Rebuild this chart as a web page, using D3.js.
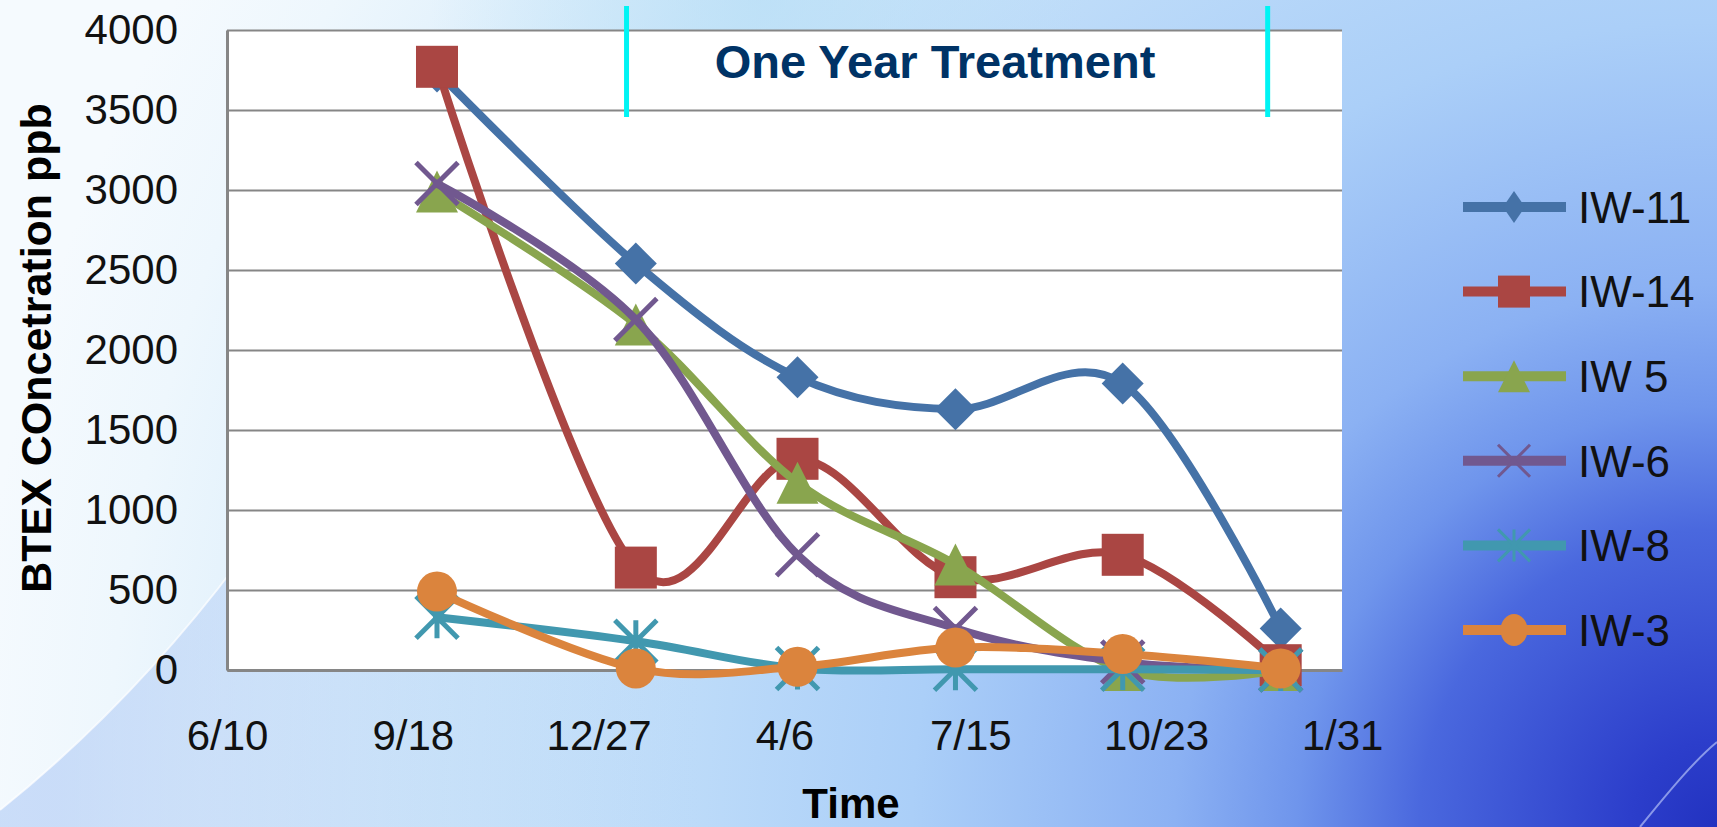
<!DOCTYPE html>
<html>
<head>
<meta charset="utf-8">
<script src="https://cdn.jsdelivr.net/npm/d3@7"></script>
<style>
  html, body { margin: 0; padding: 0; overflow: hidden; }
  svg { display: block; }
</style>
</head>
<body>
<div id="chart"></div>
<script>
// sample dates and BTEX values (ppb)
const sampleDates = ["2008-10-01", "2009-01-16", "2009-04-13", "2009-07-07", "2009-10-05", "2009-12-29"];
const seriesNames = ["IW-11", "IW-14", "IW 5", "IW-6", "IW-8", "IW-3"];
const iw11 = [3740, 2540, 1830, 1630, 1790, 260];
const iw14 = [3770, 640, 1320, 580, 720, 30];
const iw5 = [2990, 2160, 1170, 660, 0, 0];
const iw6 = [3040, 2190, 720, 260, 50, 0];
const iw8 = [330, 180, 10, 5, 5, 0];
const iw3 = [490, 10, 20, 140, 100, 10];

const xTickDates = ["2008-06-10", "2008-09-18", "2008-12-27", "2009-04-06", "2009-07-15", "2009-10-23", "2010-01-31"];
const xTickLabels = ["6/10", "9/18", "12/27", "4/6", "7/15", "10/23", "1/31"];
const yTicks = [0, 500, 1000, 1500, 2000, 2500, 3000, 3500, 4000];

const treatmentDates = ["2009-01-11", "2009-12-22"];
const treatmentLabel = "One Year Treatment";

const colors = ["#4572A7", "#AA4643", "#89A54E", "#71588F", "#4198AF", "#DB843D"];
const markerTypes = ["diamond", "square", "triangle", "x", "star", "circle"];

const width = 1717
const height = 827
const plotLeft = 227
const plotRight = 1342
const plotTop = 30
const plotBottom = 670

const parseDate = d3.timeParse("%Y-%m-%d")
const allSeries = [iw11, iw14, iw5, iw6, iw8, iw3]

let svg = d3.select("#chart")
    .append("svg")
    .attr("width", width)
    .attr("height", height)

// background: light on the left, deep blue toward the bottom right corner
const defs = svg.append("defs")
const bg = defs.append("radialGradient")
    .attr("id", "bg")
    .attr("gradientUnits", "userSpaceOnUse")
    .attr("cx", 1717).attr("cy", 827).attr("r", 1750)
    .attr("fx", 1717).attr("fy", 827)
const bgStops = [
    [0, "#2232c0"], [0.05, "#2c3ecb"], [0.17, "#4a68de"], [0.24, "#6f95ec"],
    [0.31, "#8bb1f3"], [0.46, "#abcff8"], [0.73, "#d0e8fa"], [0.92, "#eef7fd"], [1, "#f5fafe"]
]
bgStops.forEach(s => bg.append("stop").attr("offset", s[0]).attr("stop-color", s[1]))

const topTint = defs.append("radialGradient")
    .attr("id", "topTint")
    .attr("gradientUnits", "userSpaceOnUse")
    .attr("cx", 760).attr("cy", 0).attr("r", 330)
topTint.append("stop").attr("offset", "0%").attr("stop-color", "#b7def6").attr("stop-opacity", 0.7)
topTint.append("stop").attr("offset", "100%").attr("stop-color", "#b7def6").attr("stop-opacity", 0)

const wedge = defs.append("linearGradient")
    .attr("id", "wedge")
    .attr("gradientUnits", "userSpaceOnUse")
    .attr("x1", 60).attr("y1", 0).attr("x2", 700).attr("y2", 0)
wedge.append("stop").attr("offset", "0%").attr("stop-color", "#a9c6f4").attr("stop-opacity", 0.55)
wedge.append("stop").attr("offset", "100%").attr("stop-color", "#a9c6f4").attr("stop-opacity", 0)

svg.append("rect")
    .attr("width", width)
    .attr("height", height)
    .attr("fill", "url(#bg)")

svg.append("rect")
    .attr("width", width)
    .attr("height", 330)
    .attr("fill", "url(#topTint)")

svg.append("path")
    .attr("d", "M0,810 C100,730 180,640 240,560 L700,560 L700,827 L0,827 Z")
    .attr("fill", "url(#wedge)")

svg.append("path")
    .attr("d", "M0,810 C100,730 180,640 240,560")
    .attr("fill", "none")
    .attr("stroke", "#ffffff")
    .attr("stroke-width", 2)
    .attr("opacity", 0.7)

svg.append("path")
    .attr("d", "M1640,827 C1670,790 1695,760 1717,742")
    .attr("fill", "none")
    .attr("stroke", "#c9d6ff")
    .attr("stroke-width", 2)
    .attr("opacity", 0.6)

// scales
const x = d3.scaleTime()
    .domain([parseDate(xTickDates[0]), parseDate(xTickDates[xTickDates.length - 1])])
    .range([plotLeft, plotRight])

const y = d3.scaleLinear()
    .domain([0, 4000])
    .range([plotBottom, plotTop])

svg.append("rect")
    .attr("x", plotLeft)
    .attr("y", plotTop)
    .attr("width", plotRight - plotLeft)
    .attr("height", plotBottom - plotTop)
    .attr("fill", "#ffffff")

// gridlines
svg.append("g")
    .attr("transform", `translate(${plotLeft},0)`)
    .call(d3.axisLeft(y).tickValues(yTicks).tickSize(-(plotRight - plotLeft)).tickFormat(""))
    .call(g => g.select(".domain").remove())
    .call(g => g.selectAll("line").attr("stroke", "#868686").attr("stroke-width", 2))

// y axis
svg.append("g")
    .attr("transform", `translate(${plotLeft},0)`)
    .call(d3.axisLeft(y).tickValues(yTicks).tickFormat(d3.format("d")).tickSize(0).tickPadding(49))
    .call(g => g.select(".domain").attr("stroke", "#868686").attr("stroke-width", 3))
    .call(g => g.selectAll("text")
        .attr("font-family", "Liberation Sans, Arial, sans-serif")
        .attr("font-size", 42)
        .attr("fill", "#111"))

// x axis
svg.append("g")
    .attr("transform", `translate(0,${plotBottom})`)
    .call(d3.axisBottom(x)
        .tickValues(xTickDates.map(parseDate))
        .tickFormat((d, i) => xTickLabels[i])
        .tickSize(0)
        .tickSizeOuter(0)
        .tickPadding(50))
    .call(g => g.select(".domain").attr("stroke", "#868686").attr("stroke-width", 3))
    .call(g => g.selectAll("text")
        .attr("font-family", "Liberation Sans, Arial, sans-serif")
        .attr("font-size", 42)
        .attr("fill", "#111"))

function drawMarker(g, type, w, h, color, sw) {
    const a = w / 2
    const b = h / 2
    if (type === "diamond") {
        g.append("path").attr("d", `M0,${-b}L${a},0L0,${b}L${-a},0Z`).attr("fill", color)
    } else if (type === "square") {
        g.append("rect").attr("x", -a).attr("y", -b).attr("width", w).attr("height", h).attr("fill", color)
    } else if (type === "triangle") {
        g.append("path").attr("d", `M0,${-b}L${a},${b}L${-a},${b}Z`).attr("fill", color)
    } else if (type === "circle") {
        g.append("ellipse").attr("rx", a).attr("ry", b).attr("fill", color)
    } else if (type === "x") {
        g.append("path").attr("d", `M${-a},${-b}L${a},${b}M${-a},${b}L${a},${-b}`)
            .attr("stroke", color).attr("stroke-width", sw).attr("fill", "none")
    } else if (type === "star") {
        g.append("path").attr("d", `M${-a},${-b}L${a},${b}M${-a},${b}L${a},${-b}M0,${-b}L0,${b}`)
            .attr("stroke", color).attr("stroke-width", sw).attr("fill", "none")
    }
}

const line = d3.line()
    .x(d => x(d.date))
    .y(d => y(d.value))
    .curve(d3.curveCardinal.tension(0))

allSeries.forEach((values, s) => {
    const pts = values.map((v, i) => ({ date: parseDate(sampleDates[i]), value: v }))
    const g = svg.append("g")
    g.append("path")
        .datum(pts)
        .attr("d", line)
        .attr("fill", "none")
        .attr("stroke", colors[s])
        .attr("stroke-width", 8)
        .attr("stroke-linejoin", "round")
        .attr("stroke-linecap", "round")
    pts.forEach(p => {
        const m = g.append("g").attr("transform", `translate(${x(p.date)},${y(p.value)})`)
        const w = markerTypes[s] === "circle" ? 40 : 42
        drawMarker(m, markerTypes[s], w, w, colors[s], 5)
    })
})

// treatment period markers
svg.selectAll(".treat")
    .data(treatmentDates)
    .enter()
    .append("line")
    .attr("x1", d => x(parseDate(d)))
    .attr("x2", d => x(parseDate(d)))
    .attr("y1", 6)
    .attr("y2", 117)
    .attr("stroke", "#00f4f4")
    .attr("stroke-width", 5)

svg.append("text")
    .attr("x", 935)
    .attr("y", 78)
    .attr("text-anchor", "middle")
    .attr("font-family", "Liberation Sans, Arial, sans-serif")
    .attr("font-weight", "bold")
    .attr("font-size", 47)
    .attr("fill", "#003366")
    .text(treatmentLabel)

// axis titles
svg.append("text")
    .attr("transform", "translate(51,348) rotate(-90)")
    .attr("text-anchor", "middle")
    .attr("font-family", "Liberation Sans, Arial, sans-serif")
    .attr("font-weight", "bold")
    .attr("font-size", 43)
    .attr("fill", "#000")
    .text("BTEX COncetration ppb")

svg.append("text")
    .attr("x", 851)
    .attr("y", 818)
    .attr("text-anchor", "middle")
    .attr("font-family", "Liberation Sans, Arial, sans-serif")
    .attr("font-weight", "bold")
    .attr("font-size", 42)
    .attr("fill", "#000")
    .text("Time")

// legend
const legendTop = 207
const legendStep = 84.6
seriesNames.forEach((name, s) => {
    const ly = legendTop + s * legendStep
    const g = svg.append("g").attr("transform", `translate(0,${ly})`)
    g.append("line")
        .attr("x1", 1463).attr("x2", 1566)
        .attr("y1", 0).attr("y2", 0)
        .attr("stroke", colors[s])
        .attr("stroke-width", 10)
    const m = g.append("g").attr("transform", "translate(1514,0)")
    const w = markerTypes[s] === "diamond" ? 22 : (markerTypes[s] === "circle" ? 27 : 32)
    drawMarker(m, markerTypes[s], w, 32, colors[s], 3)
    g.append("text")
        .attr("x", 1578)
        .attr("dy", "0.36em")
        .attr("font-family", "Liberation Sans, Arial, sans-serif")
        .attr("font-size", 44)
        .attr("fill", "#111")
        .text(name)
})
</script>
</body>
</html>
